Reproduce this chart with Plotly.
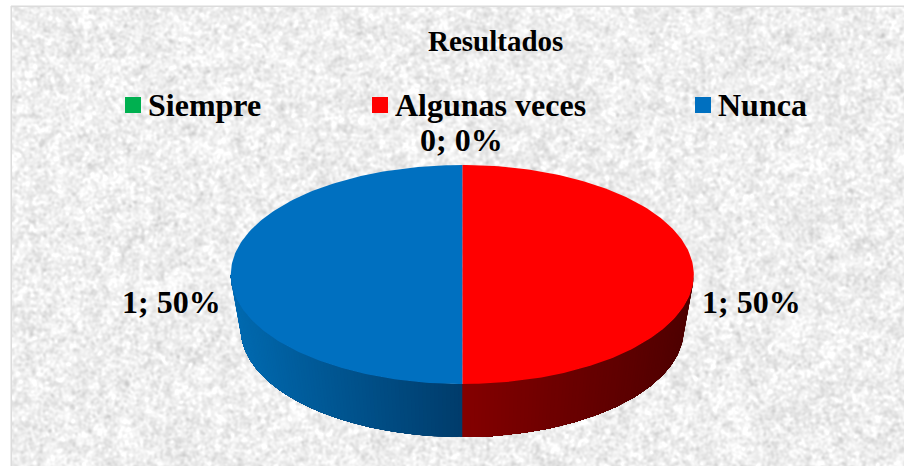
import base64
import math
import struct
import zlib

import numpy as np
import plotly.graph_objects as go

# ---- chart data ----
title = "Resultados"
categories = ["Siempre", "Algunas veces", "Nunca"]
values = [0, 1, 1]
colors = ["#00B050", "#FF0000", "#0070C0"]

# ---- layout / style ----
W, H = 904, 466
SERIF = "Liberation Serif"
CX, CY, RX, RY = 462.3, 274.5, 231.5, 109.5      # top face
CY2, RX2, RY2 = 329, 221.5, 108                  # bottom rim (perspective)
SIDE = {"#FF0000": ((0x84, 0, 0), (0x4e, 0, 0)),
        "#0070C0": ((0x00, 0x3c, 0x6b), (0x00, 0x6a, 0xb0)),
        "#00B050": ((0, 0x60, 0x2c), (0, 0x40, 0x1e))}
LEGEND_X = [125, 372, 695]
LEGEND_Y = 105
LABEL_POS = [(461, 140), (751.5, 302), (171.5, 302)]


def texture_png(w, h):
    """Decorative paper-like background (not chart data), encoded as a PNG."""
    rng = np.random.default_rng(7)

    def blur(a, s):
        fy = np.fft.fftfreq(a.shape[0])[:, None]
        fx = np.fft.fftfreq(a.shape[1])[None, :]
        g = np.exp(-2 * (math.pi * s) ** 2 * (fx ** 2 + fy ** 2))
        out = np.fft.ifft2(np.fft.fft2(a) * g).real
        return out / out.std()

    fine = blur(rng.normal(size=(h, w)), 1.3)
    coarse = blur(rng.normal(size=(h, w)), 5)
    img = np.clip(239 + 8 * fine + 3 * coarse, 195, 255).astype(np.uint8)

    raw = b"".join(b"\x00" + img[r].tobytes() for r in range(h))

    def chunk(tag, data):
        body = tag + data
        return struct.pack(">I", len(data)) + body + struct.pack(">I", zlib.crc32(body))

    png = (b"\x89PNG\r\n\x1a\n"
           + chunk(b"IHDR", struct.pack(">IIBBBBB", w, h, 8, 0, 0, 0, 0))
           + chunk(b"IDAT", zlib.compress(raw))
           + chunk(b"IEND", b""))
    return "data:image/png;base64," + base64.b64encode(png).decode()


def top(theta):
    return CX + RX * math.sin(theta), CY - RY * math.cos(theta)


def rim(theta):
    return CX + RX2 * math.sin(theta), CY2 - RY2 * math.cos(theta)


def rgb(c):
    return "rgb(%d,%d,%d)" % tuple(round(v) for v in c)


fig = go.Figure()
total = sum(values)
start = 0.0

# angular span of each slice, clockwise from 12 o'clock
spans = []
for v in values:
    sweep = 2 * math.pi * v / total
    spans.append((start, start + sweep))
    start += sweep

# side wall: painted in overlapping steps so no seams show between shades
for (a, b), col in zip(spans, colors):
    lo, hi = max(a, math.pi / 2), min(b, 3 * math.pi / 2)
    if hi <= lo:
        continue
    near, far = SIDE[col]
    n = 90
    thetas = [lo + (hi - lo) * i / n for i in range(n + 1)]
    for i in range(n):
        arc = thetas[i:]
        upper = [top(t) for t in arc]
        lower = [rim(t) for t in reversed(arc)]
        p = upper + lower + [upper[0]]
        mid = (thetas[i] + thetas[i + 1]) / 2
        xm = abs(math.sin(mid))
        c = [near[k] + (far[k] - near[k]) * xm for k in range(3)]
        fig.add_trace(go.Scatter(
            x=[q[0] for q in p], y=[q[1] for q in p], mode="lines", fill="toself",
            fillcolor=rgb(c), line=dict(width=0),
            hoverinfo="skip", showlegend=False))

# top faces
for (a, b), col, name in zip(spans, colors, categories):
    if b <= a:
        continue
    n = 180
    pts = [top(a + (b - a) * i / n) for i in range(n + 1)]
    xs = [CX] + [q[0] for q in pts] + [CX]
    ys = [CY] + [q[1] for q in pts] + [CY]
    fig.add_trace(go.Scatter(x=xs, y=ys, mode="lines", fill="toself", fillcolor=col,
                             line=dict(width=0), name=name,
                             hoverinfo="name", showlegend=False))

# legend keys
fig.add_trace(go.Scatter(x=[x + 8 for x in LEGEND_X], y=[LEGEND_Y] * 3, mode="markers",
                         marker=dict(symbol="square", size=16, color=colors, line=dict(width=0)),
                         hoverinfo="skip", showlegend=False))

annotations = [dict(x=495, y=41, text=f"<b>{title}</b>", font=dict(size=29))]
for x, name in zip(LEGEND_X, categories):
    annotations.append(dict(x=x + 21, y=LEGEND_Y, text=f"<b>{name}</b>", xanchor="left",
                            font=dict(size=32)))
for (x, y), v in zip(LABEL_POS, values):
    annotations.append(dict(x=x, y=y, text=f"<b>{v}; {round(100 * v / total)}%</b>",
                            font=dict(size=32)))
for an in annotations:
    an.update(xref="x", yref="y", showarrow=False, yanchor="middle",
              font=dict(family=SERIF, color="#000000", size=an["font"]["size"]))
    an.setdefault("xanchor", "center")

fig.update_layout(
    width=W, height=H, autosize=False, margin=dict(l=0, r=0, t=0, b=0),
    paper_bgcolor="#ffffff", plot_bgcolor="rgba(0,0,0,0)",
    xaxis=dict(range=[0, W], visible=False, fixedrange=True),
    yaxis=dict(range=[H, 0], visible=False, fixedrange=True),
    annotations=annotations,
    images=[dict(source=texture_png(W - 12, H - 7), xref="x", yref="y", x=12, y=7,
                 sizex=W - 12, sizey=H - 7, sizing="stretch", layer="below",
                 xanchor="left", yanchor="top")],
    shapes=[dict(type="line", xref="x", yref="y", x0=11.5, x1=11.5, y0=6, y1=H,
                 line=dict(color="#dcdcdc", width=2), layer="below"),
            dict(type="line", xref="x", yref="y", x0=11, x1=W, y0=6.5, y1=6.5,
                 line=dict(color="#dcdcdc", width=2), layer="below")],
)

fig.write_html("out.html", config={"displayModeBar": False},
               post_script="document.body.style.margin='0';document.documentElement.style.overflow='hidden';")
